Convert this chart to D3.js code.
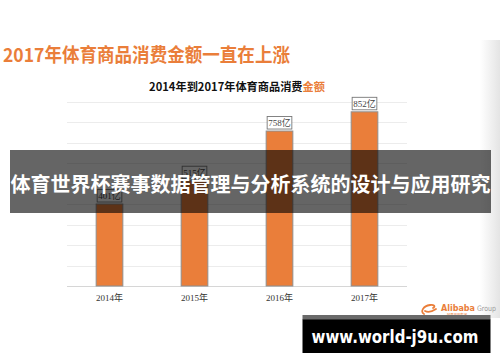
<!DOCTYPE html>
<html><head><meta charset="utf-8">
<script src="https://cdn.jsdelivr.net/npm/d3@7"></script>
<style>html,body{margin:0;padding:0;background:#fff;overflow:hidden}</style>
</head><body>
<script>
const years = ["2014年","2015年","2016年","2017年"];
const values = [401, 515, 758, 852];
const valueLabels = ["401亿","515亿","758亿","852亿"];
const gridValues = [0,100,200,300,400,500,600,700,800,900];
const title = "2017年体育商品消费金额一直在上涨";
const subtitleMain = "2014年到2017年体育商品消费";
const subtitleAccent = "金额";
const bannerText = "体育世界杯赛事数据管理与分析系统的设计与应用研究";
const siteText = "www.world-j9u.com";

const W = 500, H = 362;
const orange = "#EA7E3A";
const svg = d3.select("body").append("svg").attr("width", W).attr("height", H);

const defs = svg.append("defs");
const grad = defs.append("linearGradient").attr("id","edge").attr("x1","0").attr("x2","1").attr("y1","0").attr("y2","0");
grad.append("stop").attr("offset","0").attr("stop-color","#fff");
grad.append("stop").attr("offset","1").attr("stop-color","#e4e4e4");
svg.append("rect").attr("x",480).attr("y",40).attr("width",20).attr("height",278).attr("fill","url(#edge)");

const cjk = "'Noto Sans CJK SC', 'Noto Sans', sans-serif";
const serif = "'Liberation Serif', 'DejaVu Serif', 'Noto Sans CJK SC', serif";

svg.append("text").attr("x",3).attr("y",62).attr("font-family",cjk).attr("font-weight","bold")
  .attr("font-size",19).attr("fill",orange).attr("textLength",287).attr("lengthAdjust","spacingAndGlyphs").text(title);

const sub = svg.append("text").attr("x",237).attr("y",91).attr("text-anchor","middle").attr("font-family",cjk)
  .attr("font-weight","bold").attr("font-size",11.2).attr("fill","#111");
sub.append("tspan").text(subtitleMain);
sub.append("tspan").attr("fill",orange).text(subtitleAccent);

const x = d3.scaleBand().domain(years).range([67,407]).paddingInner(0.686).paddingOuter(0.343);
const y = d3.scaleLinear().domain([0,900]).range([286,102]);

svg.append("g").selectAll("line").data(gridValues).join("line")
  .attr("x1",67).attr("x2",407).attr("y1",d=>Math.round(y(d))+0.5).attr("y2",d=>Math.round(y(d))+0.5)
  .attr("stroke",d=>d===0?"#d6d6d6":"#ececec").attr("stroke-width",1);

svg.append("g").selectAll("rect").data(values).join("rect")
  .attr("x",(d,i)=>x(years[i])).attr("width",x.bandwidth())
  .attr("y",d=>y(d)).attr("height",d=>y(0)-y(d))
  .attr("fill",orange).attr("stroke","#8f8f8f").attr("stroke-width",1);

const lab = svg.append("g").selectAll("g").data(values).join("g");
lab.append("rect").attr("x",(d,i)=>x(years[i])+1).attr("width",x.bandwidth()-2)
  .attr("y",d=>y(d)-14.5).attr("height",12.5).attr("fill","#fff").attr("stroke","#777").attr("stroke-width",0.9);
lab.append("text").attr("x",(d,i)=>x(years[i])+x.bandwidth()/2).attr("y",d=>y(d)-5)
  .attr("text-anchor","middle").attr("font-family",serif).attr("font-size",9).attr("fill","#444")
  .text((d,i)=>valueLabels[i]);

svg.append("g").selectAll("text").data(years).join("text")
  .attr("x",d=>x(d)+x.bandwidth()/2).attr("y",301).attr("text-anchor","middle")
  .attr("font-family",serif).attr("font-size",9).attr("fill","#333").text(d=>d);

// Alibaba logo
const logo = svg.append("g");
logo.append("path").attr("d","M424,314 C420,312 423,306 430,305 C434,304.5 436,306 433,308 M425,311 C429,313 433,311 436,309")
  .attr("fill","none").attr("stroke",orange).attr("stroke-width",1.8).attr("stroke-linecap","round");
logo.append("text").attr("x",441).attr("y",311).attr("font-family","'DejaVu Sans', sans-serif").attr("font-weight","bold")
  .attr("font-size",8).attr("fill",orange).attr("textLength",34).attr("lengthAdjust","spacingAndGlyphs").text("Alibaba");
logo.append("text").attr("x",477).attr("y",311).attr("font-family","'DejaVu Sans', sans-serif")
  .attr("font-size",7.5).attr("fill","#999").attr("textLength",19).attr("lengthAdjust","spacingAndGlyphs").text("Group");
logo.append("text").attr("x",447).attr("y",316.5).attr("font-family",cjk)
  .attr("font-size",4).attr("fill",orange).attr("textLength",20).attr("lengthAdjust","spacingAndGlyphs").text("阿里巴巴集团");

// banner
svg.append("rect").attr("x",10).attr("y",150).attr("width",481).attr("height",63).attr("fill","#000").attr("opacity",0.605);
svg.append("text").attr("x",250.5).attr("y",192).attr("text-anchor","middle").attr("font-family",cjk)
  .attr("font-weight","bold").attr("font-size",20.5).attr("fill","#fff")
  .attr("textLength",480).attr("lengthAdjust","spacingAndGlyphs").text(bannerText);

// site box
svg.append("rect").attr("x",302.5).attr("y",315).attr("width",188).attr("height",5).attr("fill","#6a6a6a");
svg.append("rect").attr("x",302.5).attr("y",319.5).attr("width",188).attr("height",33.5).attr("fill","#000");
svg.append("text").attr("x",395).attr("y",343).attr("text-anchor","middle").attr("font-family","'DejaVu Sans', sans-serif")
  .attr("font-weight","bold").attr("font-size",17).attr("fill","#fff")
  .attr("textLength",167).attr("lengthAdjust","spacingAndGlyphs").text(siteText);
</script>
</body></html>
